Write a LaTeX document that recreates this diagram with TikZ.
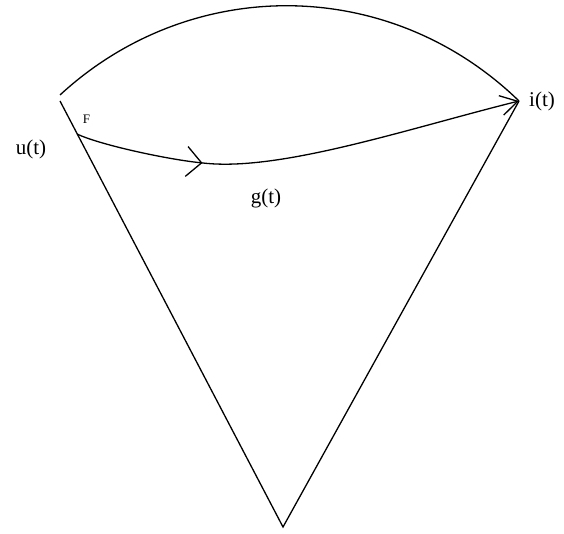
\documentclass[tikz,border=0pt]{standalone}
\usepackage{fontspec}
\setmainfont{Liberation Serif}
\usetikzlibrary{arrows.meta,decorations.markings}

\tikzset{
  edge/.style={line width=1.3pt,black},
  lbl/.style={inner sep=0pt,font=\fontsize{21}{24}\selectfont},
  barbtip/.tip={Straight Barb[length=15pt,width=30pt,line width=1.3pt]},
  endtip/.tip={Straight Barb[length=17pt,width=20pt,line width=1.3pt]},
}

\begin{document}
\begin{tikzpicture}[x=1pt,y=-1pt]
  \useasboundingbox (0,0) rectangle (564,534);

  % Punkty
  \coordinate (ua) at (60,95);
  \coordinate (ub) at (60,101);
  \coordinate (i)  at (519,101);
  \coordinate (o)  at (283,527);
  \coordinate (f)  at (77,134);
  \coordinate (m)  at (203,163);

  % Luk gorny
  \draw[edge] (ua) .. controls (190,-25) and (389,-25) .. (i);

  % Boki trojkata
  \draw[edge] (ub) -- (o) -- (i);

  % Krzywa g(t)
  \draw[edge,-endtip,
    postaction={decorate,decoration={markings,
      mark=at position 0.285 with {\arrow{barbtip}}}}]
    (f) .. controls (100,145) and (170,160) .. (m)
        .. controls (280,172) and (410,128) .. (i);

  % Opisy
  \node[lbl] (ulbl) at (31,149) {u(t)};
  \node[lbl] (ilbl) at (542,101) {i(t)};
  \node[lbl] (glbl) at (266,198) {g(t)};
  \node[inner sep=0pt,font=\fontsize{13}{14}\selectfont] (flbl) at (86.5,119.5) {F};

\end{tikzpicture}
\end{document}
